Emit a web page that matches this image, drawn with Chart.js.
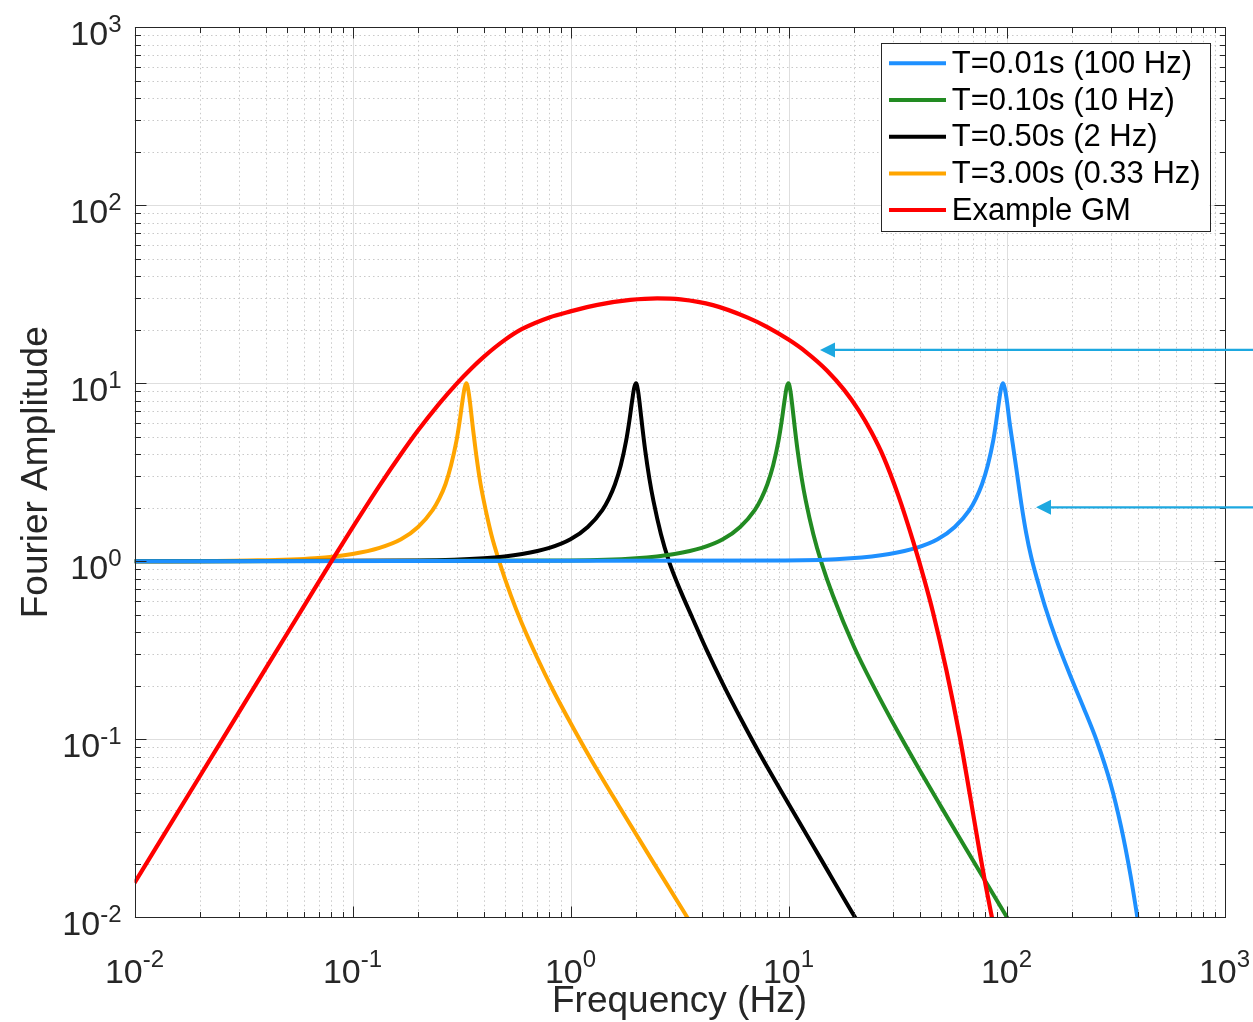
<!DOCTYPE html>
<html>
<head>
<meta charset="utf-8">
<title>Fourier Amplitude vs Frequency</title>
<script src="https://cdn.jsdelivr.net/npm/chart.js@4.4.1/dist/chart.umd.min.js"></script>
<style>
  html, body { margin: 0; padding: 0; background: #fff; overflow: hidden; }
  canvas { display: block; }
</style>
</head>
<body>
<canvas id="fas" width="1253" height="1022"></canvas>
<script>
/* ============================================================
   FOURIER AMPLITUDE SPECTRA - oscillators vs example ground motion
   log-log, MATLAB look (box, inward ticks, dotted minor grid)
   ============================================================ */

/* ---------- Axis ticks / labels ---------- */
const X_TICKS    = [0.01, 0.1, 1, 10, 100, 1000];
const X_TICK_EXP = ["-2", "-1", "0", "1", "2", "3"];
const Y_TICKS    = [0.01, 0.1, 1, 10, 100, 1000];
const Y_TICK_EXP = ["-2", "-1", "0", "1", "2", "3"];
const MINOR_MULT = [2, 3, 4, 5, 6, 7, 8, 9];
const X_TITLE = "Frequency (Hz)";
const Y_TITLE = "Fourier Amplitude";

const LEGEND_LABELS = ["T=0.01s (100 Hz)", "T=0.10s (10 Hz)", "T=0.50s (2 Hz)", "T=3.00s (0.33 Hz)", "Example GM"];

/* ---------- Series ---------- */
// T = 0.01 s  (peak sits a little below 100 Hz in the figure)
const f100 = [0.01, 9.65, 19.3, 29, 38.6, 48.3, 57.9, 67.6, 72.4, 77.2, 82, 86.9, 89.7, 92.6, 94.6, 96.5, 98.5, 100.5, 103, 107, 111, 117, 123, 130, 140, 150, 170, 195, 225, 260, 300, 335, 370, 400, 430];
const a100 = [1.0, 1.01, 1.04, 1.10, 1.19, 1.33, 1.56, 1.94, 2.25, 2.71, 3.45, 4.76, 6.10, 8.07, 9.46, 10.0, 9.2, 7.9, 6.2, 4.5, 3.3, 2.1, 1.45, 1.05, 0.75, 0.561, 0.357, 0.232, 0.152, 0.0972, 0.0565, 0.0325, 0.0174, 0.00968, 0.0054];

// T = 0.10 s  (fn = 10 Hz)
const f10 = [0.01, 1, 2, 3, 4, 5, 6, 7, 7.5, 8, 8.5, 9, 9.3, 9.6, 9.8, 10, 10.2, 10.4, 10.7, 11, 11.5, 12, 13, 14.14, 16, 20, 25, 30, 40, 50, 70, 100, 120];
const a10 = [1.0, 1.01, 1.04, 1.10, 1.19, 1.33, 1.56, 1.94, 2.25, 2.71, 3.45, 4.76, 6.10, 8.07, 9.46, 10.0, 9.1, 7.56, 5.55, 4.22, 2.92, 2.19, 1.42, 0.99, 0.64, 0.33, 0.19, 0.125, 0.067, 0.042, 0.021, 0.0101, 0.007];

// T = 0.50 s  (fn = 2 Hz)
const f2 = [0.01, 0.2, 0.4, 0.6, 0.8, 1.0, 1.2, 1.4, 1.5, 1.6, 1.7, 1.8, 1.86, 1.92, 1.96, 2.0, 2.04, 2.08, 2.14, 2.2, 2.3, 2.4, 2.6, 2.83, 3.2, 3.6, 4.2, 5.0, 6.2, 7.5, 10, 14, 20, 24];
const a2 = [1.0, 1.01, 1.04, 1.10, 1.19, 1.33, 1.56, 1.94, 2.25, 2.71, 3.45, 4.76, 6.10, 8.07, 9.46, 10.0, 9.1, 7.56, 5.55, 4.22, 2.92, 2.19, 1.42, 1.0, 0.68, 0.49, 0.32, 0.205, 0.123, 0.08, 0.0435, 0.0215, 0.0102, 0.0071];

// T = 3.00 s  (fn = 0.33 Hz)
const f033 = [0.01, 0.033, 0.067, 0.1, 0.133, 0.167, 0.2, 0.233, 0.25, 0.267, 0.283, 0.3, 0.31, 0.32, 0.327, 0.333, 0.34, 0.347, 0.357, 0.367, 0.383, 0.4, 0.433, 0.471, 0.533, 0.6, 0.7, 0.833, 1.033, 1.25, 1.667, 2.333, 3.333, 4];
const a033 = [1.0, 1.01, 1.04, 1.10, 1.19, 1.33, 1.56, 1.94, 2.25, 2.71, 3.45, 4.76, 6.10, 8.07, 9.46, 10.0, 9.1, 7.56, 5.55, 4.22, 2.92, 2.19, 1.42, 1.0, 0.641, 0.444, 0.291, 0.188, 0.115, 0.0761, 0.0422, 0.0215, 0.0106, 0.0073];

// Example ground motion
const fGM = [0.01, 0.02, 0.04, 0.06, 0.08, 0.1, 0.134, 0.167, 0.2, 0.25, 0.3, 0.35, 0.4, 0.5, 0.6, 0.8, 1.0, 1.33, 1.88, 2.5, 3.2, 4.5, 6.5, 8, 10, 12, 15, 18, 21, 24, 27.3, 32, 37.4, 42, 46, 53, 61, 68, 75, 80, 86, 92];
const aGM = [0.0156, 0.0624, 0.25, 0.562, 1.0, 1.545, 2.695, 4.005, 5.443, 7.69, 9.93, 12.08, 14.08, 17.53, 20.2, 23.45, 25.35, 27.6, 29.4, 30.0, 29.6, 27.5, 23.4, 20.7, 17.6, 15.03, 11.81, 9.18, 7.04, 5.32, 3.85, 2.315, 1.281, 0.787, 0.518, 0.2445, 0.1037, 0.0485, 0.0239, 0.0154, 0.0098, 0.0065];

/* ---------- Annotation arrows (tip position, data units) ---------- */
const ARROW_TIP_F = [13.95, 136.6];
const ARROW_TIP_A = [15.4, 2.01];

/* ---------- Styles ---------- */
const AXIS_COLOR  = "#262626";
const ARROW_COLOR = "#1DA8E0";
const FONT_FAMILY = '"Liberation Sans", Arial, Helvetica, sans-serif';
const BASE_FONT   = "34px " + FONT_FAMILY;
const EXP_FONT    = "24px " + FONT_FAMILY;
const TITLE_FONT  = "37px " + FONT_FAMILY;
const LEGEND_FONT = "31px " + FONT_FAMILY;

const pts = (fs, as) => fs.map((f, i) => ({x: f, y: as[i]}));
const line = (label, data, color, width, order) => ({
  label, data, borderColor: color, backgroundColor: color, borderWidth: width,
  pointRadius: 0, fill: false, cubicInterpolationMode: "monotone", order
});

// lower order is painted on top: red over everything, blue over the other oscillators
const datasets = [
  line(LEGEND_LABELS[0], pts(f100, a100), "#1E90FF", 4, 2),
  line(LEGEND_LABELS[1], pts(f10,  a10),  "#228B22", 4, 3),
  line(LEGEND_LABELS[2], pts(f2,   a2),   "#000000", 4, 4),
  line(LEGEND_LABELS[3], pts(f033, a033), "#FFA500", 4, 5),
  line(LEGEND_LABELS[4], pts(fGM,  aGM),  "#FF0000", 4.2, 1)
];

/* ---------- helpers ---------- */
function powLabel(ctx, exp, x, y, raise, align){
  ctx.font = BASE_FONT; const wb = ctx.measureText("10").width;
  ctx.font = EXP_FONT;  const we = ctx.measureText(exp).width;
  const x0 = align === "right" ? x - wb - we : x - (wb + we) / 2;
  ctx.textAlign = "left"; ctx.textBaseline = "alphabetic";
  ctx.font = BASE_FONT; ctx.fillText("10", x0, y);
  ctx.font = EXP_FONT;  ctx.fillText(exp, x0 + wb, y - raise);
}
function minorValues(ticks){
  const out = [];
  for(let i = 0; i < ticks.length - 1; i++) MINOR_MULT.forEach(m => out.push(m * ticks[i]));
  return out;
}

/* ---------- MATLAB style axes plugin ---------- */
const matlabAxes = {
  id: "matlabAxes",
  beforeDatasetsDraw(chart){
    const {ctx, chartArea: a, scales: {x: xs, y: ys}} = chart;
    ctx.save();
    // minor grid, dotted
    ctx.strokeStyle = "#c9c9c9"; ctx.lineWidth = 1; ctx.setLineDash([1.5, 3]);
    ctx.beginPath();
    minorValues(X_TICKS).forEach(v => { const px = Math.round(xs.getPixelForValue(v)) + 0.5; ctx.moveTo(px, a.top); ctx.lineTo(px, a.bottom); });
    minorValues(Y_TICKS).forEach(v => { const py = Math.round(ys.getPixelForValue(v)) + 0.5; ctx.moveTo(a.left, py); ctx.lineTo(a.right, py); });
    ctx.stroke();
    // major grid, solid
    ctx.setLineDash([]); ctx.strokeStyle = "#dedede";
    ctx.beginPath();
    X_TICKS.forEach(v => { const px = Math.round(xs.getPixelForValue(v)) + 0.5; ctx.moveTo(px, a.top); ctx.lineTo(px, a.bottom); });
    Y_TICKS.forEach(v => { const py = Math.round(ys.getPixelForValue(v)) + 0.5; ctx.moveTo(a.left, py); ctx.lineTo(a.right, py); });
    ctx.stroke();
    ctx.restore();
  },
  afterDatasetsDraw(chart){
    const {ctx, chartArea: a, scales: {x: xs, y: ys}} = chart;
    ctx.save();
    const L = Math.round(a.left) + 0.5, R = Math.round(a.right) + 0.5;
    const T = Math.round(a.top) + 0.5, B = Math.round(a.bottom) + 0.5;

    // box + inward ticks on all four sides
    ctx.strokeStyle = AXIS_COLOR; ctx.lineWidth = 1;
    ctx.strokeRect(L, T, R - L, B - T);
    ctx.beginPath();
    const xTick = (v, len) => { const px = Math.round(xs.getPixelForValue(v)) + 0.5;
      ctx.moveTo(px, B); ctx.lineTo(px, B - len); ctx.moveTo(px, T); ctx.lineTo(px, T + len); };
    const yTick = (v, len) => { const py = Math.round(ys.getPixelForValue(v)) + 0.5;
      ctx.moveTo(L, py); ctx.lineTo(L + len, py); ctx.moveTo(R, py); ctx.lineTo(R - len, py); };
    X_TICKS.forEach(v => xTick(v, 11));
    Y_TICKS.forEach(v => yTick(v, 11));
    minorValues(X_TICKS).forEach(v => xTick(v, 5.5));
    minorValues(Y_TICKS).forEach(v => yTick(v, 5.5));
    ctx.stroke();

    // tick labels 10^n
    ctx.fillStyle = AXIS_COLOR;
    Y_TICKS.forEach((v, i) => powLabel(ctx, Y_TICK_EXP[i], a.left - 13, ys.getPixelForValue(v) + 18, 13, "right"));
    X_TICKS.forEach((v, i) => powLabel(ctx, X_TICK_EXP[i], xs.getPixelForValue(v), a.bottom + 66, 16, "center"));

    // axis titles
    ctx.font = TITLE_FONT; ctx.textAlign = "center"; ctx.textBaseline = "alphabetic";
    ctx.fillText(X_TITLE, (a.left + a.right) / 2, a.bottom + 95);
    ctx.save();
    ctx.translate(47, (a.top + a.bottom) / 2);
    ctx.rotate(-Math.PI / 2);
    ctx.fillText(Y_TITLE, 0, 0);
    ctx.restore();

    // arrows coming in from the right edge
    ctx.strokeStyle = ARROW_COLOR; ctx.fillStyle = ARROW_COLOR; ctx.lineWidth = 2.2;
    ARROW_TIP_F.forEach((f, i) => {
      const tx = xs.getPixelForValue(f), ty = ys.getPixelForValue(ARROW_TIP_A[i]);
      ctx.beginPath(); ctx.moveTo(tx + 12, ty); ctx.lineTo(chart.width, ty); ctx.stroke();
      ctx.beginPath(); ctx.moveTo(tx, ty); ctx.lineTo(tx + 15, ty - 7.5); ctx.lineTo(tx + 15, ty + 7.5); ctx.closePath(); ctx.fill();
    });

    // legend box (top right, inside axes)
    const bw = 328.6, bh = 188.3;
    const bx = a.right - 15.2 - bw, by = a.top + 15.4;
    ctx.fillStyle = "#fff"; ctx.fillRect(bx, by, bw, bh);
    ctx.strokeStyle = AXIS_COLOR; ctx.lineWidth = 1;
    ctx.strokeRect(Math.round(bx) + 0.5, Math.round(by) + 0.5, Math.round(bw), Math.round(bh));
    ctx.font = LEGEND_FONT; ctx.textAlign = "left"; ctx.textBaseline = "middle";
    chart.data.datasets.forEach((ds, i) => {
      const ry = by + 20.6 + i * 36.7;
      ctx.strokeStyle = ds.borderColor; ctx.lineWidth = 4;
      ctx.beginPath(); ctx.moveTo(bx + 8.3, ry); ctx.lineTo(bx + 65.3, ry); ctx.stroke();
      ctx.fillStyle = "#000"; ctx.fillText(ds.label, bx + 71, ry + 1);
    });
    ctx.restore();
  }
};

/* ---------- Chart ---------- */
new Chart(document.getElementById("fas"), {
  type: "line",
  data: { datasets },
  options: {
    responsive: false,
    animation: false,
    devicePixelRatio: 1,
    events: [],
    layout: { padding: { left: 134.5, right: 28.5, top: 27.3, bottom: 104.7 } },
    plugins: { legend: { display: false }, tooltip: { enabled: false } },
    scales: {
      x: { type: "logarithmic", min: 0.01, max: 1000, display: false },
      y: { type: "logarithmic", min: 0.01, max: 1000, display: false }
    }
  },
  plugins: [matlabAxes]
});
</script>
</body>
</html>
